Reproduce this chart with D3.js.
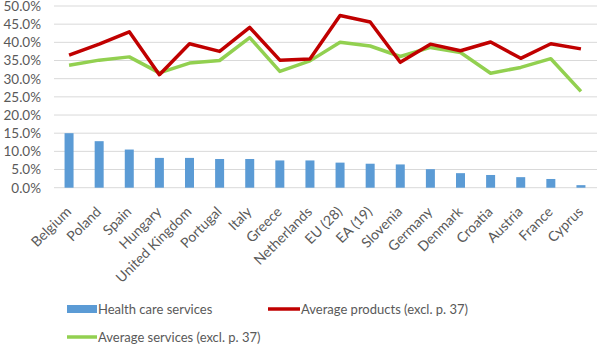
<!DOCTYPE html>
<html lang="en">
<head>
	<meta charset="UTF-8">
	<title>health care chart</title>
	<style>
		body { margin: 0; background: #fff; }
		text { font-family: Lato, "Open Sans", sans-serif; fill: #595959; }
	</style>
</head>
<body>
	<svg id="cont" width="597" height="346">
		<g id="grid"></g>
		<g id="body"></g>
		<g id="xaxis"></g>
		<g id="yaxis"></g>
		<g id="legend"></g>
	</svg>
<script src="https://cdn.jsdelivr.net/npm/d3@7"></script>
<script>
	let countries = ["Belgium","Poland","Spain","Hungary","United Kingdom","Portugal","Italy","Greece","Netherlands","EU (28)","EA (19)","Slovenia","Germany","Denmark","Croatia","Austria","France","Cyprus"]
	let health = [15.0,12.8,10.5,8.2,8.2,7.9,7.9,7.5,7.5,6.9,6.6,6.4,5.1,4.0,3.5,2.9,2.4,0.7]
	let products = [36.5,39.5,42.9,31.1,39.6,37.5,44.1,35.1,35.4,47.4,45.6,34.5,39.5,37.7,40.1,35.6,39.6,38.2]
	let services = [33.7,35.1,36.0,31.6,34.3,35.0,41.3,32.0,34.9,40.0,39.0,36.1,38.6,37.2,31.5,33.1,35.5,26.5]
	let yticks = [0,5,10,15,20,25,30,35,40,45,50]

	let svg = d3.select("#cont")

	let x = d3.scaleBand()
		.domain(countries)
		.range([54, 596])
	let y = d3.scaleLinear()
		.domain([0, 50])
		.range([187.7, 6])

	// gridlines
	d3.select("#grid").selectAll("line")
		.data(yticks)
		.enter()
		.append("line")
		.attr("x1", 54).attr("x2", 597)
		.attr("y1", d => y(d)).attr("y2", d => y(d))
		.attr("stroke", "#d9d9d9")
		.attr("stroke-width", 1)

	// bars
	let bw = 9
	d3.select("#body").selectAll("rect")
		.data(countries)
		.enter()
		.append("rect")
		.attr("fill", "#5b9bd5")
		.attr("x", (d) => x(d) + x.bandwidth()/2 - bw/2)
		.attr("width", bw)
		.attr("y", (d,i) => y(health[i]))
		.attr("height", (d,i) => y(0) - y(health[i]))

	let line = d3.line()
		.x((d,i) => x(countries[i]) + x.bandwidth()/2)
		.y(d => y(d))

	d3.select("#body").append("path")
		.attr("d", line(services))
		.attr("fill", "none")
		.attr("stroke", "#92d050")
		.attr("stroke-width", 3.5)
		.attr("stroke-linejoin", "round")
	d3.select("#body").append("path")
		.attr("d", line(products))
		.attr("fill", "none")
		.attr("stroke", "#c00000")
		.attr("stroke-width", 3.5)
		.attr("stroke-linejoin", "round")

	// y axis
	let yaxis = d3.axisLeft(y)
		.tickValues(yticks)
		.tickSize(0)
		.tickPadding(13)
		.tickFormat(d => d.toFixed(1) + "%")
	d3.select("#yaxis")
		.attr("transform", "translate(54,0)")
		.call(yaxis)
		.call(g => g.select(".domain").remove())
		.selectAll("text")
		.attr("font-size", 13.5)
		.attr("fill", "#595959")

	// x axis
	let xaxis = d3.axisBottom(x).tickSize(0)
	d3.select("#xaxis")
		.attr("transform", "translate(0,187.7)")
		.call(xaxis)
		.call(g => g.select(".domain").remove())
		.selectAll("text")
		.attr("font-size", 14)
		.attr("fill", "#595959")
		.attr("text-anchor", "end")
		.attr("transform", "translate(3,25) rotate(-45)")
		.attr("dy", 0)
		.attr("y", 0)
		.attr("x", 0)

	// legend
	let lg = d3.select("#legend")
	lg.append("rect").attr("x", 67).attr("y", 305).attr("width", 30).attr("height", 8).attr("fill", "#5b9bd5")
	lg.append("text").attr("x", 98).attr("y", 314).attr("font-size", 13).text("Health care services")
	lg.append("line").attr("x1", 268).attr("x2", 300).attr("y1", 309).attr("y2", 309).attr("stroke", "#c00000").attr("stroke-width", 3.5)
	lg.append("text").attr("x", 301).attr("y", 314).attr("font-size", 13).text("Average products (excl. p. 37)")
	lg.append("line").attr("x1", 67).attr("x2", 97).attr("y1", 337).attr("y2", 337).attr("stroke", "#92d050").attr("stroke-width", 3.5)
	lg.append("text").attr("x", 98).attr("y", 342).attr("font-size", 13).text("Average services  (excl. p. 37)")
</script>
</body>
</html>
